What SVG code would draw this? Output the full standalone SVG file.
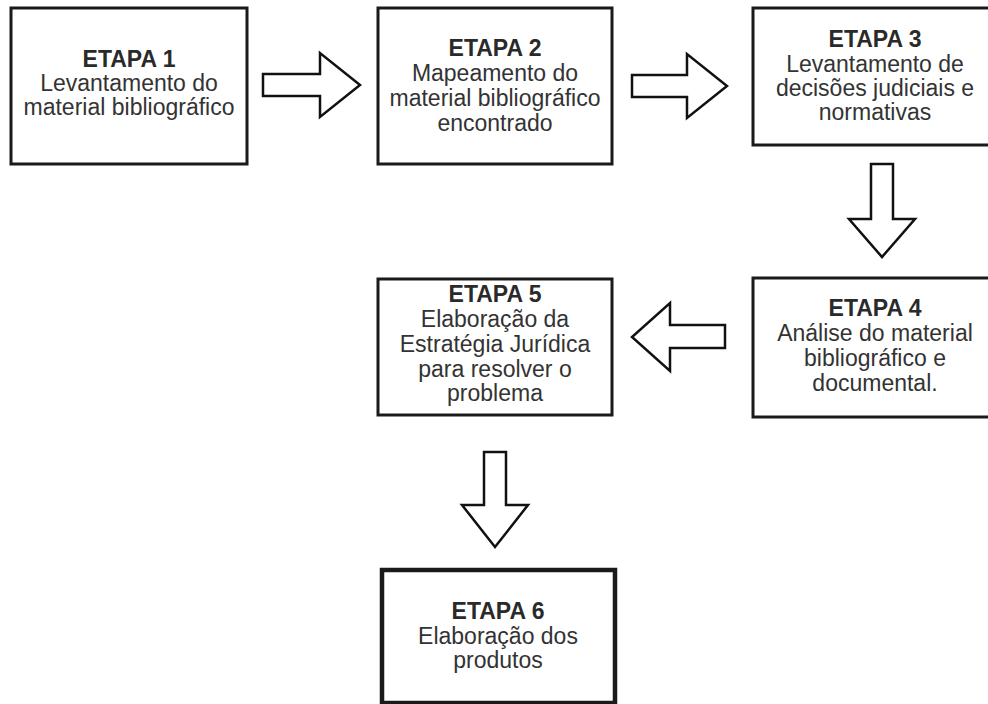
<svg xmlns="http://www.w3.org/2000/svg" width="988" height="704" viewBox="0 0 988 704">
<style>
.box{fill:#fff;stroke:#1a1a1a;stroke-width:3}
.thick{stroke-width:4.5}
.arr{fill:#fff;stroke:#111;stroke-width:2.5;stroke-linejoin:miter}
text{font-family:"Liberation Sans",Arial,sans-serif;font-size:23px;fill:#333;text-anchor:middle}
.h{font-weight:bold;fill:#2a2a2a}
</style>
<rect width="988" height="704" fill="#fff"/>
<g id="connectors">
<polygon class="arr" points="263,74 320,74 320,53 360,85 320,117 320,96 263,96"/>
<polygon class="arr" points="632,75 687,75 687,54 727,86 687,118 687,97 632,97"/>
<polygon class="arr" points="871,164 893,164 893,219 915,219 882,257 849,219 871,219"/>
<polygon class="arr" points="725,325 670,325 670,303 632,337 670,371 670,348 725,348"/>
<polygon class="arr" points="484,452 506,452 506,505 528,505 495,547 462,505 484,505"/>
</g>
<g id="etapa1">
<rect class="box" x="11" y="8" width="236" height="156"/>
<text class="h" x="129" y="67">ETAPA 1</text>
<text x="129" y="91">Levantamento do</text>
<text x="129" y="115">material bibliográfico</text>
</g>
<g id="etapa2">
<rect class="box" x="378" y="8" width="234" height="156"/>
<text class="h" x="495" y="56">ETAPA 2</text>
<text x="495" y="81">Mapeamento do</text>
<text x="495" y="106">material bibliográfico</text>
<text x="495" y="131">encontrado</text>
</g>
<g id="etapa3">
<rect class="box" x="753" y="8" width="244" height="137"/>
<text class="h" x="875" y="47">ETAPA 3</text>
<text x="875" y="72">Levantamento de</text>
<text x="875" y="96">decisões judiciais e</text>
<text x="875" y="120">normativas</text>
</g>
<g id="etapa4">
<rect class="box" x="753" y="278" width="244" height="139"/>
<text class="h" x="875" y="316">ETAPA 4</text>
<text x="875" y="341">Análise do material</text>
<text x="875" y="366">bibliográfico e</text>
<text x="875" y="391">documental.</text>
</g>
<g id="etapa5">
<rect class="box" x="378" y="279" width="234" height="136"/>
<text class="h" x="495" y="302">ETAPA 5</text>
<text x="495" y="327">Elaboração da</text>
<text x="495" y="352">Estratégia Jurídica</text>
<text x="495" y="377">para resolver o</text>
<text x="495" y="401">problema</text>
</g>
<g id="etapa6">
<rect class="box thick" x="382" y="570" width="233" height="133"/>
<text class="h" x="498" y="619">ETAPA 6</text>
<text x="498" y="644">Elaboração dos</text>
<text x="498" y="668">produtos</text>
</g>
</svg>
